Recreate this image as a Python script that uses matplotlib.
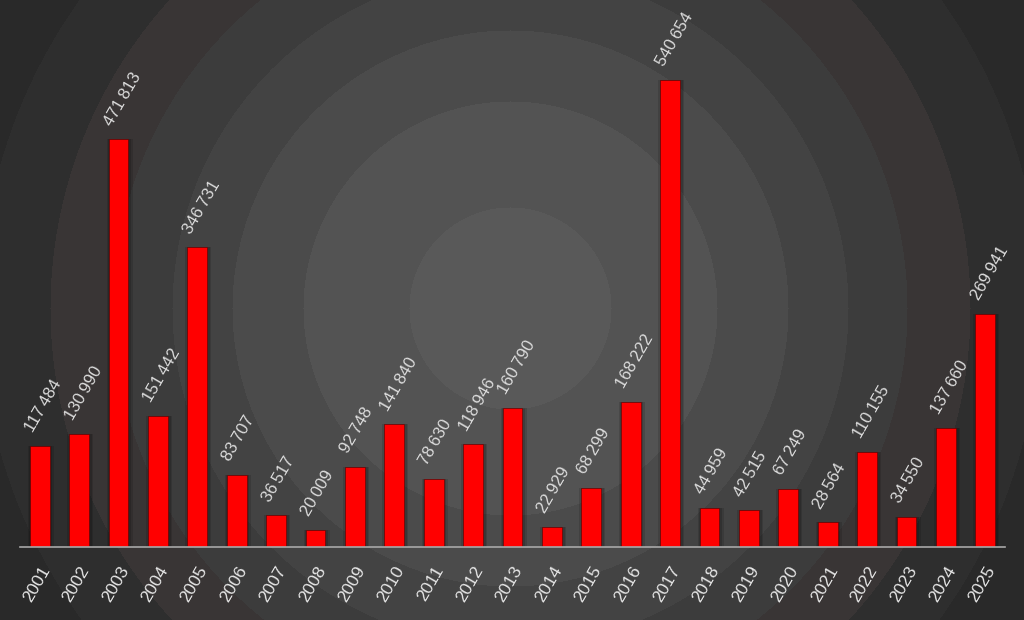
import numpy as np
import matplotlib.pyplot as plt

years = [str(y) for y in range(2001, 2026)]
values = [117484, 130990, 471813, 151442, 346731, 83707, 36517, 20009, 92748,
          141840, 78630, 118946, 160790, 22929, 68299, 168222, 540654, 44959,
          42515, 67249, 28564, 110155, 34550, 137660, 269941]

plt.rcParams['font.family'] = ['Liberation Sans', 'DejaVu Sans']

W, H = 1024, 620
fig = plt.figure(figsize=(W / 100, H / 100), dpi=100)

# stepped radial background
bg = fig.add_axes([0, 0, 1, 1])
yy, xx = np.mgrid[0:H, 0:W]
r = np.hypot(xx - 510, yy - 308)
edges = [101, 207, 278, 338, 397, 460, 530, 600, 680]
greys = [89, 83, 75, 67, 60, 53, 46, 41, 37, 34]
idx = np.searchsorted(edges, r)
level = np.array(greys)[idx] / 255.0
img = np.dstack([level, level, level])
img[idx == 5, 0] += 4 / 255.0
bg.imshow(img, extent=[0, W, H, 0], aspect='auto')
bg.set_axis_off()

ax = fig.add_axes([20 / W, 1 - 547 / H, 985 / W, (547 - 28.7) / H])
ax.patch.set_alpha(0)
x = np.arange(len(years))

# soft shadow round the bars
ax.bar(x + 0.03, values, width=0.66, color='black', alpha=0.12, zorder=1)
ax.bar(x + 0.03, values, width=0.58, color='black', alpha=0.15, zorder=1)
ax.bar(x, values, width=0.5, color='#ff0000', edgecolor='#5a0000', linewidth=0.4, zorder=2)

for xi, v in zip(x, values):
    label = f"{v:,}".replace(",", "\u2009")
    ax.text(xi - 0.1, v + 13000, label, rotation=60, ha='left', va='bottom',
            rotation_mode='anchor', color='#dcdcdc', fontsize=12)

ax.set_xlim(-0.5, len(years) - 0.5)
ax.set_ylim(0, 600000)
ax.set_xticks(x)
ax.set_xticklabels(years, rotation=60, ha='right', rotation_mode='anchor',
                   color='#e6e6e6', fontsize=12.5)
ax.tick_params(axis='x', length=0, pad=12)
ax.set_yticks([])
for s in ['top', 'right', 'left']:
    ax.spines[s].set_visible(False)
ax.spines['bottom'].set_color('#a8a8a8')
ax.spines['bottom'].set_linewidth(1.2)
ax.spines['bottom'].set_zorder(3)

fig.savefig('out.png', dpi=100)
